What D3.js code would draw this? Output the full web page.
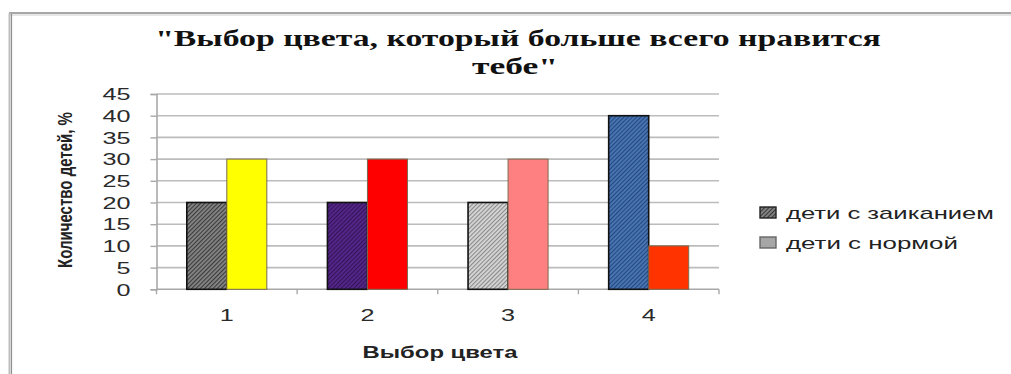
<!DOCTYPE html>
<html>
<head>
<meta charset="utf-8">
<script src="https://cdn.jsdelivr.net/npm/d3@7"></script>
<style>
  html, body { margin: 0; padding: 0; background: #fff; }
  svg { display: block; }
</style>
</head>
<body>
<svg id="chart" width="1011" height="374"></svg>
<script>
// ---- data ----
const categories = ["1", "2", "3", "4"];
const seriesNames = ["дети с заиканием", "дети с нормой"];
const stutterValues = [20, 20, 20, 40];
const normalValues = [30, 30, 30, 10];
const yTicks = [0, 5, 10, 15, 20, 25, 30, 35, 40, 45];
const titleLines = ["\"Выбор цвета, который больше всего нравится", "тебе\""];
const xTitle = "Выбор цвета";
const yTitle = "Количество детей, %";

// bar fills: hatched for the first series, solid for the second
const stutterFills = [
  { base: "#858585", line: "#3a3a3a" },
  { base: "#55268a", line: "#331458" },
  { base: "#d6d6d6", line: "#8a8a8a" },
  { base: "#4a76b4", line: "#24487e" }
];
const normalFills = ["#ffff00", "#ff0000", "#ff8080", "#ff3300"];

const svg = d3.select("#chart");
const defs = svg.append("defs");

function hatch(id, base, line) {
  const p = defs.append("pattern")
    .attr("id", id).attr("patternUnits", "userSpaceOnUse")
    .attr("width", 3).attr("height", 3)
    .attr("patternTransform", "rotate(-45)");
  p.append("rect").attr("width", 3).attr("height", 3).attr("fill", base);
  p.append("rect").attr("width", 3).attr("height", 1.1).attr("fill", line);
}
stutterFills.forEach((f, i) => hatch("h" + i, f.base, f.line));

// stretch a text horizontally so it spans the given width
function fitWidth(sel, x, y, width) {
  sel.each(function () {
    const w = this.getComputedTextLength();
    const sx = width / w;
    d3.select(this).attr("transform", `translate(${x},${y}) scale(${sx},1)`);
  });
}
// rotated label: 'length' along the baseline, 'thick' stretches glyph height
function fitLength(sel, x, y, length, thick, rotate) {
  sel.each(function () {
    const w = this.getComputedTextLength();
    const s = length / w;
    d3.select(this).attr("transform",
      `translate(${x},${y}) scale(${thick},${s}) rotate(${rotate})`);
  });
}

// ---- frame ----
svg.append("line").attr("x1", 9).attr("x2", 1011).attr("y1", 13).attr("y2", 13)
  .attr("stroke", "#8a8a8a").attr("stroke-width", 1.5);
svg.append("line").attr("x1", 10).attr("x2", 1011).attr("y1", 15).attr("y2", 15)
  .attr("stroke", "#dedede").attr("stroke-width", 1.5);
svg.append("line").attr("x1", 9.5).attr("x2", 9.5).attr("y1", 13).attr("y2", 374)
  .attr("stroke", "#bdbdbd").attr("stroke-width", 2);
svg.append("line").attr("x1", 11.5).attr("x2", 11.5).attr("y1", 14).attr("y2", 374)
  .attr("stroke", "#8f8f8f").attr("stroke-width", 1.2);

// ---- scales ----
const plotLeft = 156.5, plotRight = 719, plotTop = 94, plotBottom = 289.3;
const x0 = d3.scaleBand().domain(categories).range([plotLeft, plotRight])
  .paddingInner(0.431).paddingOuter(0.2155);
const x1 = d3.scaleBand().domain([0, 1]).range([0, x0.bandwidth()]);
const y = d3.scaleLinear().domain([0, 45]).range([plotBottom, plotTop]);

// ---- gridlines ----
svg.append("g").selectAll("line").data(yTicks.filter(t => t > 0)).join("line")
  .attr("x1", plotLeft).attr("x2", plotRight)
  .attr("y1", d => y(d)).attr("y2", d => y(d))
  .attr("stroke", "#bcbcbc").attr("stroke-width", 1.6);

// ---- y axis ----
const yAxis = svg.append("g").attr("transform", `translate(${plotLeft},0)`)
  .call(d3.axisLeft(y).tickValues(yTicks).tickSize(6).tickPadding(0).tickFormat(d3.format("d")));
yAxis.select(".domain").attr("stroke", "#a8a8a8").attr("stroke-width", 1.6);
yAxis.selectAll(".tick line").attr("stroke", "#a8a8a8").attr("stroke-width", 1.4);
yAxis.selectAll(".tick text")
  .attr("font-family", "Liberation Sans, Arial, sans-serif")
  .attr("font-size", 16).attr("fill", "#2a2a2a").attr("dy", "0.36em").attr("x", null)
  .each(function (d) {
    const n = String(d).length;
    fitWidth(d3.select(this), -26, 0, n * 14);
  });

// ---- x axis ----
const xAxis = svg.append("g").attr("transform", `translate(0,${plotBottom})`)
  .call(d3.axisBottom(x0).tickSize(0).tickPadding(0));
xAxis.select(".domain").remove();
svg.append("line").attr("x1", plotLeft).attr("x2", plotRight)
  .attr("y1", plotBottom).attr("y2", plotBottom)
  .attr("stroke", "#a8a8a8").attr("stroke-width", 1.6);
const bounds = categories.map((c, i) => plotLeft + i * x0.step()).concat([plotRight]);
svg.append("g").selectAll("line").data(bounds).join("line")
  .attr("x1", d => d).attr("x2", d => d)
  .attr("y1", plotBottom).attr("y2", plotBottom + 5)
  .attr("stroke", "#a8a8a8").attr("stroke-width", 1.4);
xAxis.selectAll(".tick text")
  .attr("font-family", "Liberation Sans, Arial, sans-serif")
  .attr("font-size", 16).attr("fill", "#2a2a2a").attr("y", null).attr("dy", null)
  .attr("text-anchor", "middle")
  .each(function () { fitWidth(d3.select(this), 0, 32, 14); });

// ---- bars ----
const groups = svg.append("g").selectAll("g").data(categories).join("g")
  .attr("transform", d => `translate(${x0(d)},0)`);
groups.append("rect")
  .attr("x", x1(0)).attr("width", x1.bandwidth())
  .attr("y", (d, i) => y(stutterValues[i]))
  .attr("height", (d, i) => y(0) - y(stutterValues[i]))
  .attr("fill", (d, i) => `url(#h${i})`)
  .attr("stroke", "#111").attr("stroke-width", 1.6);
groups.append("rect")
  .attr("x", x1(1)).attr("width", x1.bandwidth())
  .attr("y", (d, i) => y(normalValues[i]))
  .attr("height", (d, i) => y(0) - y(normalValues[i]))
  .attr("fill", (d, i) => normalFills[i])
  .attr("stroke", "#7a6a50").attr("stroke-width", 1);

// ---- title ----
const title = svg.append("g")
  .attr("font-family", "Liberation Serif, Times New Roman, serif")
  .attr("font-weight", "bold").attr("font-size", 23).attr("fill", "#111")
  .attr("text-anchor", "middle");
title.append("text").text(titleLines[0]).call(s => fitWidth(s, 518, 46, 726));
title.append("text").text(titleLines[1]).call(s => fitWidth(s, 515, 74, 86));

// ---- axis titles ----
svg.append("text").text(xTitle)
  .attr("font-family", "Liberation Sans, Arial, sans-serif")
  .attr("font-weight", "bold").attr("font-size", 16).attr("fill", "#222")
  .attr("text-anchor", "middle")
  .call(s => fitWidth(s, 440, 358, 155));

svg.append("text").text(yTitle)
  .attr("font-family", "Liberation Sans Narrow, Liberation Sans, Arial, sans-serif")
  .attr("font-weight", "bold").attr("font-size", 16).attr("fill", "#222")
  .attr("text-anchor", "middle")
  .call(s => fitLength(s, 72, 190, 156, 1.3, -90));

// ---- legend ----
const legend = svg.append("g");
const legItems = [
  { name: seriesNames[0], fill: "url(#h0)", stroke: "#222", y: 213 },
  { name: seriesNames[1], fill: "#a6a6a6", stroke: "#666", y: 243 }
];
legItems.forEach((it, i) => {
  legend.append("rect").attr("x", 760).attr("y", it.y - 6).attr("width", 16).attr("height", 11)
    .attr("fill", it.fill).attr("stroke", it.stroke).attr("stroke-width", 1.4);
  legend.append("text").text(it.name)
    .attr("font-family", "Liberation Sans, Arial, sans-serif")
    .attr("font-size", 16).attr("fill", "#222").attr("dy", "0.35em")
    .call(s => fitWidth(s, 786, it.y, i === 0 ? 208 : 172));
});
</script>
</body>
</html>
